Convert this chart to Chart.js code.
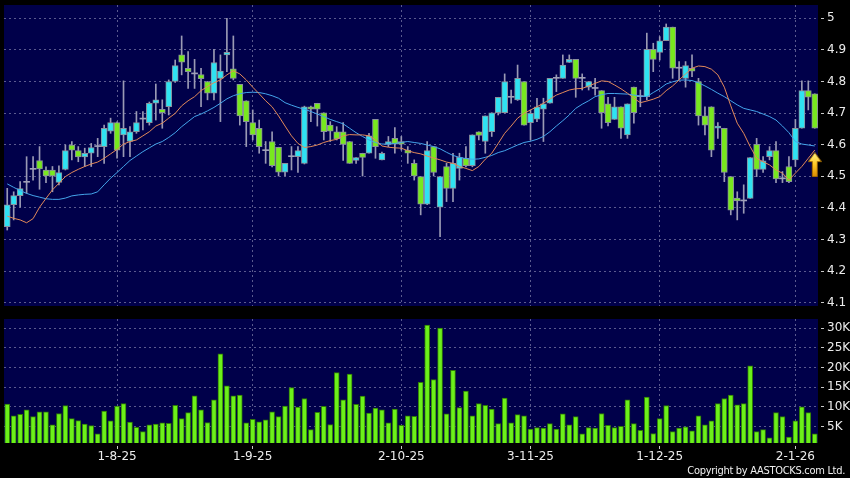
<!DOCTYPE html>
<html>
<head>
<meta charset="utf-8">
<script src="https://cdn.jsdelivr.net/npm/chart.js@4.4.0/dist/chart.umd.min.js"></script>
<style>
  html, body { margin: 0; padding: 0; background: #000; }
  #wrap { position: relative; width: 850px; height: 478px; overflow: hidden; background: #000; }
  #priceChart { position: absolute; left: 0; top: 0; }
  #volChart { position: absolute; left: 0; top: 312px; }
  #copy { position: absolute; right: 5px; top: 464px; color: #f0f0f0; letter-spacing: -0.3px;
          font: 11px "DejaVu Sans Condensed", "DejaVu Sans", sans-serif; font-stretch: condensed; }
</style>
</head>
<body>
<div id="wrap">
  <canvas id="priceChart" width="850" height="312"></canvas>
  <canvas id="volChart" width="850" height="166"></canvas>
  <div id="copy">Copyright by AASTOCKS.com Ltd.</div>
</div>
<script>
// daily candles (126 sessions)
const opens = [4.341,4.410,4.439,4.481,4.522,4.550,4.520,4.520,4.481,4.522,
  4.599,4.581,4.561,4.573,4.594,4.594,4.643,4.670,4.631,4.610,
  4.641,4.681,4.670,4.731,4.712,4.720,4.800,4.884,4.842,4.824,
  4.822,4.800,4.763,4.810,4.884,4.840,4.791,4.739,4.670,4.652,
  4.581,4.610,4.592,4.513,4.562,4.562,4.541,4.720,4.731,4.701,
  4.662,4.641,4.641,4.610,4.550,4.573,4.573,4.680,4.552,4.601,
  4.620,4.610,4.583,4.541,4.499,4.412,4.594,4.402,4.531,4.462,
  4.525,4.557,4.534,4.641,4.610,4.641,4.701,4.701,4.750,4.742,
  4.800,4.670,4.681,4.712,4.731,4.810,4.810,4.860,4.870,4.810,
  4.782,4.778,4.771,4.729,4.680,4.720,4.631,4.782,4.752,4.752,
  4.902,4.892,4.929,4.972,4.842,4.810,4.842,4.800,4.691,4.720,
  4.652,4.652,4.499,4.431,4.422,4.430,4.601,4.522,4.562,4.581,
  4.492,4.531,4.552,4.652,4.771,4.761];

const highs = [4.462,4.451,4.483,4.562,4.562,4.594,4.530,4.531,4.533,4.599,
  4.610,4.594,4.589,4.604,4.620,4.662,4.684,4.672,4.802,4.657,
  4.705,4.705,4.735,4.792,4.742,4.805,4.868,4.944,4.895,4.870,
  4.842,4.800,4.902,4.884,5.000,4.944,4.791,4.739,4.710,4.678,
  4.610,4.641,4.592,4.541,4.594,4.594,4.722,4.722,4.731,4.701,
  4.673,4.657,4.670,4.610,4.559,4.573,4.636,4.680,4.577,4.626,
  4.654,4.626,4.594,4.552,4.499,4.610,4.594,4.499,4.541,4.573,
  4.573,4.594,4.631,4.641,4.691,4.701,4.750,4.824,4.773,4.852,
  4.800,4.710,4.747,4.747,4.810,4.821,4.884,4.884,4.870,4.824,
  4.800,4.810,4.771,4.750,4.750,4.720,4.729,4.782,4.773,4.953,
  4.921,4.942,4.982,4.972,4.863,4.863,4.884,4.810,4.720,4.720,
  4.670,4.652,4.499,4.451,4.473,4.559,4.620,4.562,4.594,4.610,
  4.515,4.562,4.680,4.802,4.802,4.761];

const lows = [4.330,4.362,4.402,4.446,4.488,4.459,4.480,4.451,4.473,4.520,
  4.552,4.546,4.531,4.531,4.562,4.541,4.636,4.557,4.562,4.562,
  4.636,4.647,4.662,4.678,4.652,4.694,4.797,4.821,4.778,4.778,
  4.720,4.742,4.742,4.673,4.831,4.805,4.662,4.594,4.615,4.573,
  4.541,4.530,4.501,4.501,4.520,4.512,4.539,4.673,4.659,4.615,
  4.610,4.615,4.550,4.541,4.541,4.501,4.573,4.557,4.552,4.594,
  4.573,4.583,4.541,4.488,4.378,4.410,4.501,4.309,4.420,4.420,
  4.488,4.530,4.530,4.615,4.573,4.626,4.694,4.700,4.731,4.740,
  4.662,4.615,4.673,4.610,4.731,4.768,4.810,4.860,4.750,4.773,
  4.773,4.757,4.652,4.659,4.680,4.620,4.620,4.668,4.720,4.742,
  4.831,4.868,4.929,4.810,4.805,4.782,4.815,4.662,4.631,4.562,
  4.620,4.483,4.378,4.362,4.383,4.430,4.499,4.512,4.552,4.480,
  4.480,4.480,4.531,4.652,4.710,4.652];

const closes = [4.410,4.439,4.461,4.481,4.522,4.523,4.501,4.501,4.512,4.581,
  4.583,4.561,4.573,4.591,4.594,4.652,4.670,4.583,4.652,4.641,
  4.670,4.681,4.731,4.742,4.701,4.800,4.850,4.861,4.831,4.824,
  4.809,4.763,4.860,4.833,4.892,4.810,4.691,4.673,4.631,4.594,
  4.581,4.534,4.513,4.541,4.562,4.581,4.720,4.712,4.712,4.641,
  4.643,4.618,4.601,4.541,4.559,4.560,4.628,4.594,4.573,4.610,
  4.602,4.602,4.573,4.501,4.412,4.581,4.512,4.499,4.462,4.541,
  4.560,4.534,4.631,4.629,4.691,4.701,4.750,4.800,4.750,4.810,
  4.662,4.699,4.720,4.729,4.810,4.810,4.852,4.870,4.810,4.810,
  4.800,4.778,4.701,4.670,4.720,4.652,4.729,4.701,4.752,4.902,
  4.870,4.929,4.972,4.842,4.842,4.850,4.833,4.691,4.662,4.583,
  4.659,4.512,4.393,4.422,4.422,4.559,4.522,4.549,4.581,4.492,
  4.492,4.483,4.652,4.771,4.750,4.652];

// short (orange) and long (blue) moving averages as drawn
const maShort = [4.374,4.367,4.362,4.353,4.366,4.402,4.430,4.457,4.478,4.499,
  4.512,4.522,4.531,4.539,4.545,4.557,4.571,4.585,4.602,4.610,
  4.615,4.628,4.641,4.659,4.668,4.684,4.699,4.723,4.739,4.752,
  4.771,4.784,4.796,4.805,4.821,4.834,4.824,4.805,4.782,4.761,
  4.739,4.720,4.691,4.659,4.628,4.604,4.591,4.594,4.599,4.607,
  4.613,4.617,4.628,4.632,4.631,4.631,4.628,4.615,4.596,4.592,
  4.590,4.589,4.581,4.575,4.571,4.564,4.558,4.552,4.545,4.541,
  4.531,4.525,4.518,4.531,4.554,4.573,4.604,4.636,4.659,4.684,
  4.699,4.710,4.720,4.731,4.744,4.757,4.765,4.773,4.777,4.778,
  4.786,4.794,4.802,4.800,4.789,4.777,4.763,4.747,4.733,4.738,
  4.744,4.752,4.771,4.786,4.805,4.824,4.842,4.849,4.847,4.839,
  4.821,4.782,4.723,4.668,4.636,4.594,4.557,4.546,4.536,4.520,
  4.510,4.488,4.510,4.531,4.557,4.583];

const maLong = [4.476,4.465,4.455,4.446,4.439,4.434,4.429,4.427,4.427,4.431,
  4.438,4.441,4.443,4.444,4.451,4.473,4.494,4.512,4.531,4.550,
  4.564,4.578,4.590,4.602,4.610,4.623,4.638,4.657,4.673,4.689,
  4.697,4.707,4.718,4.731,4.745,4.755,4.761,4.765,4.766,4.765,
  4.761,4.755,4.747,4.733,4.725,4.718,4.712,4.705,4.697,4.689,
  4.680,4.673,4.666,4.652,4.638,4.626,4.615,4.607,4.602,4.602,
  4.604,4.607,4.610,4.607,4.604,4.599,4.594,4.587,4.576,4.566,
  4.560,4.556,4.554,4.555,4.560,4.566,4.575,4.581,4.590,4.599,
  4.607,4.611,4.617,4.626,4.641,4.659,4.676,4.694,4.715,4.728,
  4.739,4.752,4.758,4.762,4.762,4.761,4.760,4.757,4.754,4.752,
  4.765,4.777,4.792,4.799,4.804,4.805,4.803,4.796,4.786,4.775,
  4.763,4.752,4.739,4.726,4.715,4.710,4.705,4.697,4.689,4.678,
  4.659,4.638,4.610,4.602,4.599,4.596];

const volumes = [10700,7700,8100,9200,7500,8700,8700,5400,8300,10300,
  7000,6500,5600,5200,3100,8900,6400,10200,10800,6100,
  4800,3700,5400,5600,5900,5800,10400,7000,8500,12800,
  9200,6000,11800,23500,15300,12800,13000,5900,6800,6200,
  6700,8700,7500,10200,14900,9900,12100,4200,8600,10100,
  5500,18700,11800,18300,10600,12700,8400,9700,9200,5900,
  9400,5300,7700,7600,16200,30800,16900,30000,8200,19300,
  9800,14000,7700,10800,10400,9400,5700,12200,5900,8000,
  7700,4300,4700,4600,5700,4300,8200,5400,7500,3100,
  4700,4600,8300,5300,4700,5000,11800,5700,4000,12500,
  3200,7000,10300,3700,4600,4900,3900,7700,5400,6400,
  10800,12100,13000,10500,10800,20400,3700,4200,2100,8500,
  7500,2300,6400,10000,8500,3100];

// x axis: which sessions carry a date label
const tickPos = [17, 38, 61, 81, 101, 122];
const tickLabels = ['1-8-25', '1-9-25', '2-10-25', '3-11-25', '1-12-25', '2-1-26'];

const priceTicks = [4.1, 4.2, 4.3, 4.4, 4.5, 4.6, 4.7, 4.8, 4.9, 5.0];
const volTicks = [5000, 10000, 15000, 20000, 25000, 30000];

// buy signal arrow under the last session
const signalIdx = 125;
const signalPrice = 4.537;

const days = opens.map((_, i) => 'd' + i);

const NAVY = '#00004a';
const GRID = '#5a5a8e';
const TXT = '#ececec';
const FONT = { family: 'DejaVu Sans', size: 12 };

const panelBg = {
  id: 'panelBg',
  beforeDraw(chart) {
    const { ctx, chartArea: a } = chart;
    ctx.save();
    ctx.fillStyle = NAVY;
    ctx.fillRect(a.left, a.top, a.right - a.left, a.bottom - a.top);
    ctx.restore();
  }
};

function makeArrow() {
  const c = document.createElement('canvas');
  c.width = 14; c.height = 25;
  const g = c.getContext('2d');
  const grad = g.createLinearGradient(0, 0, 0, 25);
  grad.addColorStop(0, '#fff68a');
  grad.addColorStop(0.5, '#ffc824');
  grad.addColorStop(1, '#d88a00');
  g.beginPath();
  g.moveTo(7, 0.5); g.lineTo(13.5, 9.5); g.lineTo(9.5, 9.5); g.lineTo(9.5, 24.5);
  g.lineTo(4.5, 24.5); g.lineTo(4.5, 9.5); g.lineTo(0.5, 9.5); g.closePath();
  g.fillStyle = grad; g.fill();
  g.strokeStyle = '#9a6400'; g.lineWidth = 1; g.stroke();
  return c;
}

function candleColor(i) {
  if (closes[i] > opens[i]) return '#2fe2f2';
  if (closes[i] < opens[i]) return '#78e81e';
  return '#a0a0b8';
}

// fixed side widths so both panels share the same x scale
function rightAxis(extra) {
  return Object.assign({
    position: 'right',
    afterFit: s => { s.width = 32; s.paddingTop = 0; s.paddingBottom = 0; },
    grid: { color: GRID, tickColor: '#c8c8c8', tickLength: 6, tickBorderDash: [0, 3, 3, 60] },
    border: { display: false, dash: [2, 3] },
    ticks: { color: TXT, font: FONT, padding: 3 }
  }, extra);
}

const arrowData = days.map(() => null);
arrowData[signalIdx] = signalPrice;

new Chart(document.getElementById('priceChart'), {
  type: 'bar',
  data: {
    labels: days,
    datasets: [
      {
        type: 'line', data: arrowData, showLine: false, order: 0, clip: false,
        pointStyle: makeArrow(), pointRadius: 10
      },
      {
        type: 'line', data: maShort, borderColor: '#e2895a', borderWidth: 1,
        pointRadius: 0, order: 1
      },
      {
        type: 'line', data: maLong, borderColor: '#44a4ea', borderWidth: 1,
        pointRadius: 0, order: 1
      },
      {
        data: opens.map((o, i) => [o, closes[i]]), order: 2, grouped: false,
        barThickness: 6, minBarLength: 1, borderSkipped: false,
        backgroundColor: c => candleColor(c.dataIndex),
        borderColor: '#8a909c',
        borderWidth: c => (opens[c.dataIndex] === closes[c.dataIndex] ? 0 : 1)
      },
      {
        data: lows.map((l, i) => [l, highs[i]]), order: 3, grouped: false,
        barThickness: 1, backgroundColor: '#9a9ab4'
      }
    ]
  },
  options: {
    responsive: false,
    animation: false,
    events: [],
    layout: { autoPadding: false, padding: { left: 4, top: 5, right: 0, bottom: 0 } },
    plugins: { legend: { display: false }, tooltip: { enabled: false } },
    scales: {
      x: {
        offset: true,
        afterBuildTicks: s => { s.ticks = tickPos.map(v => ({ value: v })); },
        afterFit: s => { s.height = 6; s.paddingLeft = 0; s.paddingRight = 0; },
        grid: { color: GRID, offset: false, drawTicks: false },
        border: { display: false, dash: [2, 3] },
        ticks: { display: false }
      },
      y: rightAxis({
        min: 4.0896, max: 5.042,
        afterBuildTicks: s => { s.ticks = priceTicks.map(v => ({ value: v })); },
        ticks: { color: TXT, font: FONT, padding: 3, callback: v => String(+v.toFixed(1)) }
      })
    }
  },
  plugins: [panelBg]
});

new Chart(document.getElementById('volChart'), {
  type: 'bar',
  data: {
    labels: days,
    datasets: [{
      data: volumes, barThickness: 5, clip: 0,
      backgroundColor: '#6cf01a', borderColor: '#2e7a06', borderWidth: 1, borderSkipped: false
    }]
  },
  options: {
    responsive: false,
    animation: false,
    events: [],
    layout: { autoPadding: false, padding: { left: 4, top: 7, right: 0, bottom: 0 } },
    plugins: { legend: { display: false }, tooltip: { enabled: false } },
    scales: {
      x: {
        offset: true,
        afterBuildTicks: s => { s.ticks = tickPos.map(v => ({ value: v })); },
        afterFit: s => { s.height = 35; s.paddingLeft = 0; s.paddingRight = 0; },
        grid: { color: GRID, offset: false, tickColor: '#c8c8c8', tickLength: 6, tickBorderDash: [0, 3, 3, 60] },
        border: { display: false, dash: [2, 3] },
        ticks: {
          color: TXT, font: FONT, padding: 1, autoSkip: false, maxRotation: 0,
          callback: v => tickLabels[tickPos.indexOf(v)]
        }
      },
      y: rightAxis({
        min: 790, max: 32330,
        afterBuildTicks: s => { s.ticks = volTicks.map(v => ({ value: v })); },
        ticks: { color: TXT, font: FONT, padding: 3, callback: v => (v / 1000) + 'K' }
      })
    }
  },
  plugins: [panelBg]
});
</script>
</body>
</html>
